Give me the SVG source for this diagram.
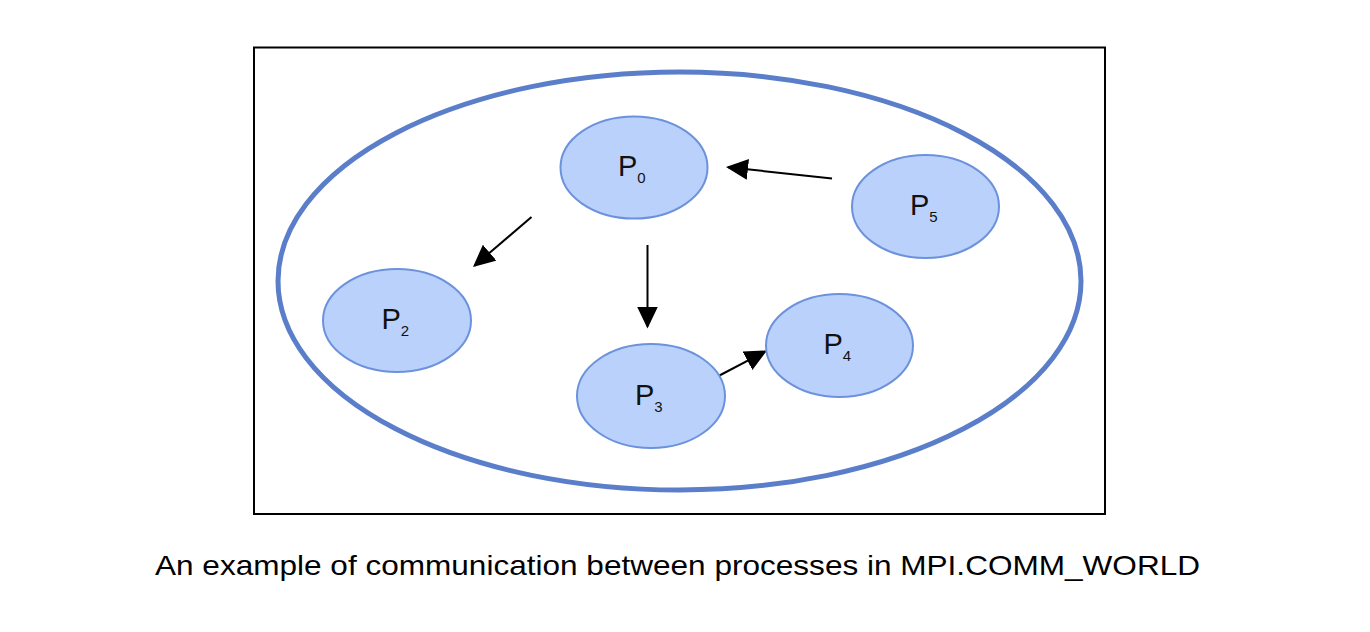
<svg xmlns="http://www.w3.org/2000/svg" width="1370" height="632" viewBox="0 0 1370 632">
<style>
.node{fill:#bad2fb;stroke:#6c92dd;stroke-width:2}
.lbl{font-family:"Liberation Sans",Arial,sans-serif;font-size:29px;fill:#111}
.sub{font-size:15px}
.conn{stroke:#000;stroke-width:2;fill:none;marker-end:url(#ah)}
</style>
<defs>
<marker id="ah" markerWidth="22" markerHeight="21" refX="20" refY="10.5" orient="auto" markerUnits="userSpaceOnUse" viewBox="0 0 22 21">
<path d="M0,0 L22,10.5 L0,21 Z" fill="#000"/>
</marker>
</defs>
<rect x="0" y="0" width="1370" height="632" fill="#fff"/>
<rect id="frame" x="254" y="47.5" width="851" height="466.5" fill="none" stroke="#000" stroke-width="2"/>
<ellipse id="comm-world" cx="679.5" cy="281" rx="401.5" ry="209" fill="none" stroke="#5a7ec9" stroke-width="5"/>
<g id="connectors">
<line class="conn" x1="832" y1="178.5" x2="728" y2="167.2"/>
<line class="conn" x1="531.5" y1="217" x2="474.5" y2="265.7"/>
<line class="conn" x1="647.5" y1="245" x2="647.5" y2="326.5"/>
<line class="conn" x1="718.5" y1="376" x2="765.2" y2="351.4"/>
</g>
<g id="P0"><ellipse class="node" cx="634" cy="167.5" rx="73.5" ry="51"/><text class="lbl" x="618" y="175.5">P<tspan class="sub" dy="7">0</tspan></text></g>
<g id="P5"><ellipse class="node" cx="925.5" cy="206.5" rx="73.5" ry="51.5"/><text class="lbl" x="910" y="215">P<tspan class="sub" dy="7">5</tspan></text></g>
<g id="P2"><ellipse class="node" cx="397" cy="320.5" rx="74" ry="51.5"/><text class="lbl" x="381.5" y="329">P<tspan class="sub" dy="7">2</tspan></text></g>
<g id="P3"><ellipse class="node" cx="651" cy="396" rx="74" ry="52"/><text class="lbl" x="635" y="404.5">P<tspan class="sub" dy="7">3</tspan></text></g>
<g id="P4"><ellipse class="node" cx="839.5" cy="345.5" rx="73.5" ry="51.5"/><text class="lbl" x="823.5" y="354">P<tspan class="sub" dy="7">4</tspan></text></g>
<text id="caption" x="155" y="575" font-family="'Liberation Sans',Arial,sans-serif" font-size="28" fill="#000" textLength="1045" lengthAdjust="spacingAndGlyphs">An example of communication between processes in MPI.COMM_WORLD</text>
</svg>
